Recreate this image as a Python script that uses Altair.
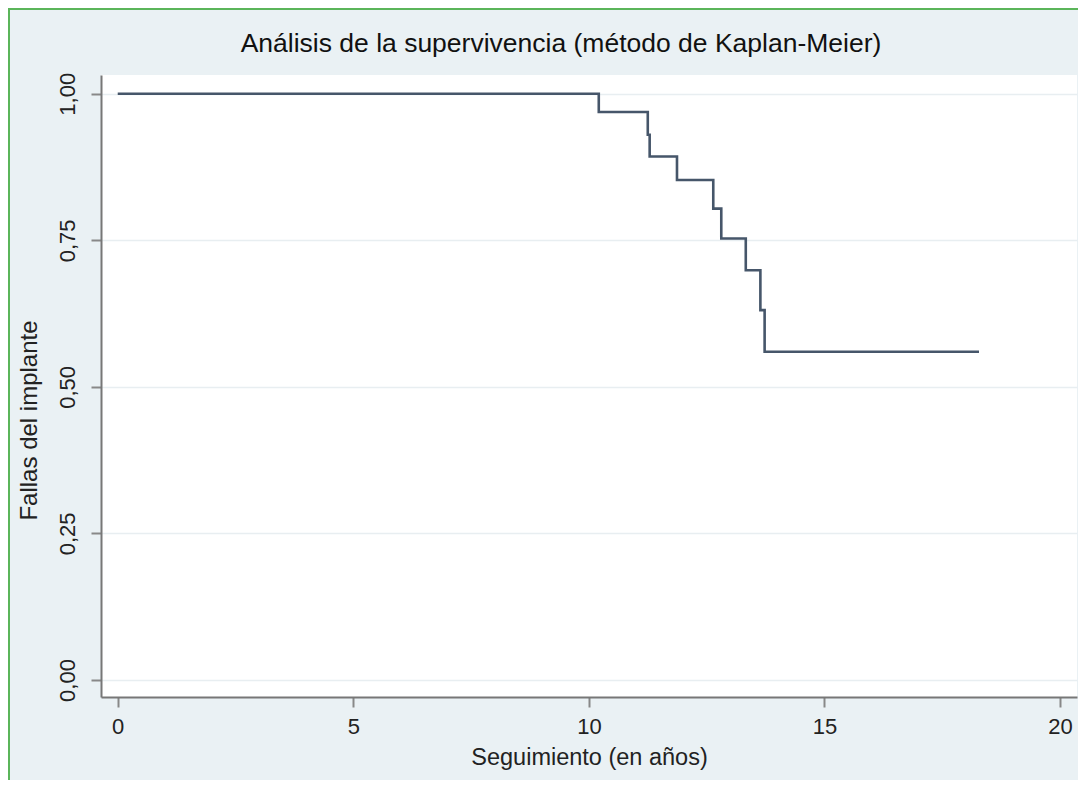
import altair as alt
import pandas as pd

# Kaplan-Meier step curve
tiempo = [0, 10.21, 11.25, 11.29, 11.87, 12.64, 12.81, 13.33, 13.64, 13.73, 18.28]
supervivencia = [1.00, 0.969, 0.930, 0.893, 0.853, 0.804, 0.753, 0.699, 0.631, 0.560, 0.560]

x_ticks = [0, 5, 10, 15, 20]
y_ticks = [0, 0.25, 0.5, 0.75, 1.0]

titulo = ["Análisis de la supervivencia (método de Kaplan-Meier)"]

df = pd.DataFrame({"t": tiempo, "s": supervivencia})
df_titulo = pd.DataFrame({"titulo": titulo})

FONT = "Liberation Sans"

curve = alt.Chart(df).mark_line(
    interpolate="step-after", color="#46566a", strokeWidth=2.6
).encode(
    x=alt.X("t:Q",
            scale=alt.Scale(domain=[-0.355, 20.36], nice=False, zero=False),
            axis=alt.Axis(values=x_ticks, title="Seguimiento (en años)", grid=False,
                          tickSize=10, labelPadding=9, titlePadding=8,
                          format="d")),
    y=alt.Y("s:Q",
            scale=alt.Scale(domain=[-0.029, 1.032], nice=False, zero=False),
            axis=alt.Axis(values=y_ticks, title="Fallas del implante", grid=True,
                          tickSize=10, labelAngle=-90, labelAlign="center",
                          labelBaseline="bottom", labelPadding=12, titlePadding=15,
                          titleY=345, titleFontSize=24,
                          format=".2f", labelExpr="replace(datum.label, '.', ',')")),
)

frame_left = alt.Chart(df_titulo).mark_rule(color="#5bb55a", strokeWidth=2).encode(
    x=alt.value(-92), y=alt.value(-67), y2=alt.value(705)
)
frame_top = alt.Chart(df_titulo).mark_rule(color="#5bb55a", strokeWidth=2).encode(
    y=alt.value(-66), x=alt.value(-93), x2=alt.value(977)
)

title_mark = alt.Chart(df_titulo).mark_text(
    font=FONT, fontSize=26.5, color="#111111", align="center", baseline="alphabetic"
).encode(
    text="titulo:N", x=alt.value(460), y=alt.value(-23)
)

chart = alt.layer(frame_left, frame_top, curve, title_mark).properties(
    width=976,
    height=622,
    autosize=alt.AutoSizeParams(type="none"),
    padding={"left": 93, "top": 67, "right": 1, "bottom": 83},
    background="#eaf1f4",
).configure_view(
    fill="white", stroke=None
).configure_axis(
    labelFont=FONT, titleFont=FONT, labelFontSize=22, titleFontSize=23.5,
    labelColor="#222222", titleColor="#222222", titleFontWeight="normal",
    domainColor="#777777", domainWidth=2, tickColor="#888888", tickWidth=2,
    gridColor="#e8eef1", gridWidth=1.5,
)

chart.save("out.html", embed_options={"renderer": "svg", "actions": False})
